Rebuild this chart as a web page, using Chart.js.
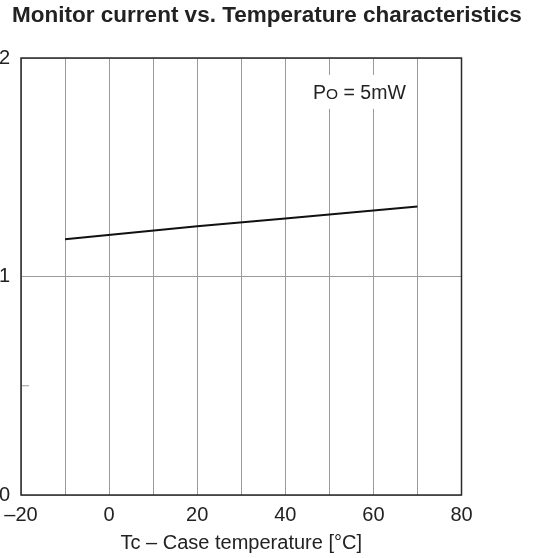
<!DOCTYPE html>
<html>
<head>
<meta charset="utf-8">
<script src="https://cdn.jsdelivr.net/npm/chart.js@4.4.4/dist/chart.umd.min.js"></script>
<style>
  html, body { margin: 0; padding: 0; background: #fff; }
  #wrap { width: 534px; height: 558px; }
</style>
</head>
<body>
<div id="wrap"><canvas id="chart"></canvas></div>
<script>
// data
const temps = [-10, 20, 40, 70];
const monitorCurrent = [1.17, 1.23, 1.265, 1.32];
const xTickLabels = { '-20': '\u201320', '0': '0', '20': '20', '40': '40', '60': '60', '80': '80' };
const yTickLabels = { '0': '0', '1': '1', '2': '2' };
const noteText = ['P', 'O', ' = 5mW'];

const FONT = "'Liberation Sans', Arial, sans-serif";
const TEXT = '#222';
const GRID = '#9a9a9a';

const frame = {
    id: 'frame',
    beforeDatasetsDraw(chart) {
        const { ctx, chartArea: a, scales } = chart;
        ctx.save();
        // short minor tick at 0.5
        const y5 = scales.y.getPixelForValue(0.5);
        ctx.strokeStyle = GRID;
        ctx.lineWidth = 1;
        ctx.beginPath();
        ctx.moveTo(a.left, y5);
        ctx.lineTo(a.left + 8, y5);
        ctx.stroke();
        // note box covering grid lines
        const big = '19.5px ' + FONT, small = '15.5px ' + FONT;
        const x0 = scales.x.getPixelForValue(46.3);
        const yc = scales.y.getPixelForValue(1.845);
        ctx.font = big;
        const wP = ctx.measureText(noteText[0]).width;
        const wR = ctx.measureText(noteText[2]).width;
        ctx.font = small;
        const wO = ctx.measureText(noteText[1]).width;
        ctx.fillStyle = '#fff';
        ctx.fillRect(x0 - 4, yc - 17, wP + wO + wR + 8, 34);
        ctx.fillStyle = TEXT;
        ctx.textBaseline = 'alphabetic';
        ctx.font = big;
        ctx.fillText(noteText[0], x0, yc + 7);
        ctx.fillText(noteText[2], x0 + wP + wO, yc + 7);
        ctx.font = small;
        ctx.fillText(noteText[1], x0 + wP, yc + 7);
        ctx.restore();
    },
    afterDraw(chart) {
        const { ctx, chartArea: a } = chart;
        ctx.save();
        ctx.strokeStyle = '#2a2a2a';
        ctx.lineWidth = 1.5;
        ctx.strokeRect(a.left, a.top, a.right - a.left, a.bottom - a.top);
        ctx.restore();
    }
};

new Chart(document.getElementById('chart'), {
    type: 'line',
    data: {
        datasets: [{
            data: temps.map((t, i) => ({ x: t, y: monitorCurrent[i] })),
            borderColor: '#111',
            borderWidth: 2,
            pointRadius: 0,
            tension: 0,
            fill: false
        }]
    },
    options: {
        responsive: true,
        maintainAspectRatio: false,
        animation: false,
        layout: { padding: 0 },
        plugins: {
            legend: { display: false },
            tooltip: { enabled: false },
            title: {
                display: true,
                text: 'Monitor current vs. Temperature characteristics',
                color: TEXT,
                font: { family: FONT, size: 22.5, weight: 'bold', lineHeight: 1.2 },
                padding: { top: 2.5, bottom: 28.5 }
            }
        },
        scales: {
            x: {
                type: 'linear',
                min: -20,
                max: 80,
                afterFit(scale) {
                    scale.height = 63;
                    scale.paddingLeft = 0;
                    scale.paddingRight = 0;
                },
                ticks: {
                    stepSize: 10,
                    autoSkip: false,
                    maxRotation: 0,
                    padding: 8,
                    color: TEXT,
                    font: { family: FONT, size: 20 },
                    callback: v => xTickLabels[String(v)] ?? ''
                },
                grid: { color: GRID, lineWidth: 1, drawTicks: false },
                border: { display: false },
                title: {
                    display: true,
                    text: 'Tc \u2013 Case temperature [\u00b0C]',
                    color: TEXT,
                    font: { family: FONT, size: 20 },
                    padding: { top: 0, bottom: 3 }
                }
            },
            y: {
                type: 'linear',
                min: 0,
                max: 2,
                afterFit(scale) { scale.width = 21; },
                ticks: {
                    stepSize: 1,
                    padding: 11,
                    color: TEXT,
                    font: { family: FONT, size: 20 },
                    callback: v => yTickLabels[String(v)] ?? ''
                },
                grid: { color: GRID, lineWidth: 1, drawTicks: false },
                border: { display: false }
            },
            spacer: {
                type: 'linear',
                position: 'right',
                afterFit(scale) { scale.width = 72.5; },
                ticks: { display: false },
                grid: { display: false, drawTicks: false },
                border: { display: false }
            }
        }
    },
    plugins: [frame]
});
</script>
</body>
</html>
